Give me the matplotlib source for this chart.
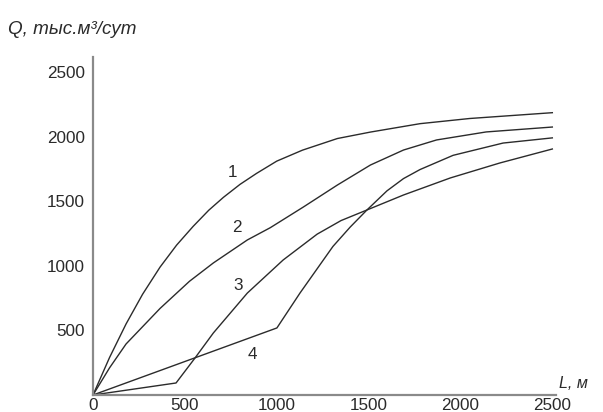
import matplotlib
matplotlib.use("Agg")
import matplotlib.pyplot as plt

# Data (L in m, Q in thousand m3/day)
L1 = [0, 90, 180, 270, 365, 455, 545, 630, 710, 800, 890, 1000, 1140, 1330, 1510, 1780, 2050, 2300, 2500]
Q1 = [0, 290, 550, 780, 990, 1160, 1305, 1430, 1530, 1630, 1715, 1810, 1895, 1985, 2035, 2100, 2140, 2165, 2185]

L2 = [0, 90, 180, 365, 525, 655, 840, 965, 1145, 1330, 1510, 1690, 1870, 2140, 2500]
Q2 = [0, 210, 395, 670, 880, 1022, 1200, 1295, 1455, 1625, 1780, 1896, 1974, 2036, 2074]

L3 = [0, 452, 555, 655, 840, 1035, 1220, 1350, 1491, 1690, 1945, 2215, 2500]
Q3 = [0, 93, 286, 480, 789, 1045, 1245, 1350, 1432, 1548, 1680, 1796, 1904]

L4 = [0, 1001, 1127, 1306, 1400, 1491, 1600, 1690, 1780, 1960, 2232, 2500]
Q4 = [0, 519, 790, 1150, 1300, 1432, 1580, 1675, 1745, 1855, 1950, 1990]

series = [(L1, Q1), (L2, Q2), (L3, Q3), (L4, Q4)]
curve_labels = ["1", "2", "3", "4"]
label_L = [760, 785, 790, 870]
label_Q = [1725, 1300, 850, 310]

xticks = [0, 500, 1000, 1500, 2000, 2500]
yticks = [500, 1000, 1500, 2000, 2500]

FONT = ["Liberation Sans", "DejaVu Sans"]
plt.rcParams["font.family"] = FONT

fig = plt.figure(figsize=(6.03, 4.12), dpi=100)
ax = fig.add_axes([93 / 603, 17 / 412, (556 - 93) / 603, (395 - 57) / 412])

for (L, Q) in series:
    ax.plot(L, Q, color="#2b2b2b", lw=1.0, solid_joinstyle="round")

for t, lx, ly in zip(curve_labels, label_L, label_Q):
    ax.text(lx, ly, t, fontsize=12.3, color="#2a2a2a", ha="center", va="center")

ax.set_xlim(0, 2520)
ax.set_ylim(0, 2616)
ax.set_xticks(xticks)
ax.set_xticklabels([str(v) for v in xticks])
ax.set_yticks(yticks)
ax.set_yticklabels([str(v) for v in yticks])
ax.tick_params(length=0, labelsize=12.3, labelcolor="#2a2a2a")
ax.tick_params(axis="x", pad=2)
ax.tick_params(axis="y", pad=6)

for s in ["top", "right"]:
    ax.spines[s].set_visible(False)
for s in ["left", "bottom"]:
    ax.spines[s].set_color("#8a8a8a")
    ax.spines[s].set_linewidth(1.6)

fig.text(8 / 603, 1 - 30 / 412, "Q, тыс.м³/сут", fontsize=13.6, style="italic",
         color="#2a2a2a", ha="left", va="center")
fig.text(559 / 603, 1 - 384 / 412, "L, м", fontsize=11.5, style="italic",
         color="#2a2a2a", ha="left", va="center")

fig.savefig("out.png", dpi=100, facecolor="white")
